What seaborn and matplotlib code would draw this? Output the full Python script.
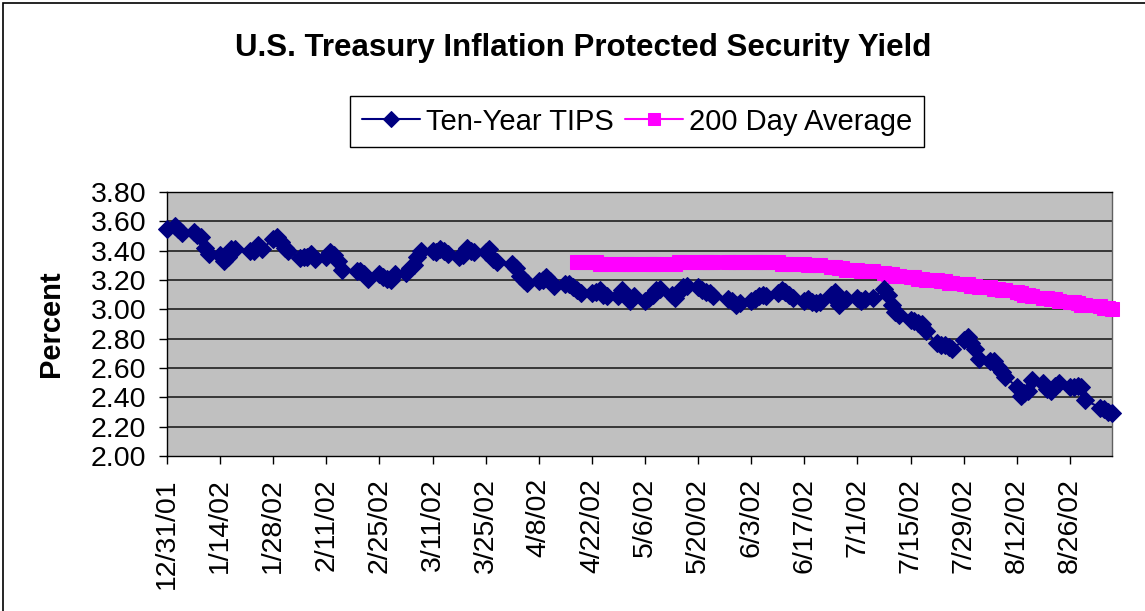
import pandas as pd
import matplotlib
matplotlib.use("Agg")
import matplotlib.pyplot as plt
import matplotlib.patches as mpatches
import seaborn as sns

# trading days, bond market holidays left out
holidays = ["2002-01-01", "2002-01-21", "2002-02-18", "2002-03-29",
            "2002-05-27", "2002-07-04", "2002-09-02"]
dates = pd.bdate_range("2001-12-31", "2002-09-06", freq="C", holidays=holidays)

# Ten-Year TIPS yield (two-week blocks)
tips = [
    3.55, 3.57, 3.55, 3.52, 3.53, 3.51, 3.49, 3.42, 3.38,
    3.37, 3.33, 3.36, 3.41, 3.41, 3.40, 3.40, 3.44, 3.41,
    3.48, 3.49, 3.46, 3.42, 3.40, 3.35, 3.36, 3.36, 3.38, 3.34,
    3.36, 3.39, 3.37, 3.33, 3.27, 3.26, 3.26, 3.24, 3.21,
    3.24, 3.22, 3.21, 3.20, 3.24, 3.25, 3.28, 3.30, 3.36, 3.40,
    3.40, 3.39, 3.41, 3.40, 3.38, 3.36, 3.37, 3.42, 3.40, 3.39,
    3.39, 3.41, 3.34, 3.32, 3.31, 3.28, 3.23, 3.20, 3.18,
    3.19, 3.20, 3.22, 3.19, 3.16, 3.17, 3.17, 3.15, 3.13, 3.11,
    3.11, 3.12, 3.13, 3.10, 3.09, 3.09, 3.13, 3.10, 3.06, 3.09,
    3.06, 3.08, 3.10, 3.13, 3.14, 3.10, 3.08, 3.12, 3.15, 3.16,
    3.15, 3.13, 3.12, 3.11, 3.09, 3.07, 3.06, 3.03, 3.04,
    3.06, 3.07, 3.09, 3.10, 3.09, 3.11, 3.13, 3.12, 3.10, 3.08,
    3.06, 3.07, 3.05, 3.04, 3.05, 3.10, 3.12, 3.03, 3.06, 3.07,
    3.08, 3.06, 3.07, 3.08, 3.14, 3.10, 3.03, 2.98, 2.96,
    2.93, 2.92, 2.91, 2.90, 2.85, 2.77, 2.76, 2.76, 2.74, 2.73,
    2.79, 2.81, 2.77, 2.73, 2.66, 2.65, 2.65, 2.61, 2.57, 2.54,
    2.47, 2.41, 2.43, 2.44, 2.52, 2.50, 2.46, 2.44, 2.48, 2.50,
    2.47, 2.47, 2.48, 2.47, 2.38, 2.33, 2.32, 2.30, 2.29,
]

# 200 day average, starts 4/18/02
avg_start = "2002-04-18"
avg200 = [
    3.32, 3.32, 3.32, 3.32, 3.31, 3.31, 3.31, 3.31, 3.31,
    3.31, 3.31, 3.31, 3.31, 3.31, 3.31, 3.31, 3.31, 3.31, 3.31, 3.32, 3.32,
    3.32, 3.32, 3.32, 3.32, 3.32, 3.32, 3.32, 3.32, 3.32, 3.32,
    3.32, 3.32, 3.32, 3.32, 3.32, 3.32, 3.31, 3.31, 3.31, 3.31,
    3.31, 3.30, 3.30, 3.30, 3.30, 3.29, 3.29, 3.28, 3.28, 3.27,
    3.27, 3.26, 3.26, 3.26, 3.25, 3.24, 3.24, 3.23, 3.23,
    3.22, 3.22, 3.21, 3.21, 3.20, 3.20, 3.19, 3.19, 3.18, 3.18,
    3.17, 3.17, 3.16, 3.16, 3.15,
    3.15, 3.14, 3.14, 3.13, 3.13, 3.12, 3.11, 3.10, 3.10, 3.09,
    3.08, 3.08, 3.07, 3.07, 3.06, 3.05, 3.05, 3.04, 3.03, 3.03,
    3.02, 3.01, 3.01, 3.00,
]

tick_dates = pd.date_range("2001-12-31", periods=18, freq="14D")
tick_labels = [f"{d.month}/{d.day}/{d.strftime('%y')}" for d in tick_dates]
y_ticks = [2.0, 2.2, 2.4, 2.6, 2.8, 3.0, 3.2, 3.4, 3.6, 3.8]

df = pd.DataFrame({"date": dates, "tips": tips})
df_avg = pd.DataFrame({"date": dates[dates >= avg_start], "avg": avg200})

sns.set_style("white")
plt.rcParams["font.family"] = ["Liberation Sans", "DejaVu Sans"]
plt.rcParams["text.color"] = "black"
plt.rcParams["axes.labelcolor"] = "black"
plt.rcParams["xtick.color"] = "black"
plt.rcParams["ytick.color"] = "black"

fig = plt.figure(figsize=(11.45, 6.11), dpi=100)
ax = fig.add_axes([167 / 1145, 1 - 456 / 611, 945 / 1145, 264 / 611])
ax.set_facecolor("#C0C0C0")

sns.lineplot(data=df, x="date", y="tips", ax=ax, color="#000080",
             marker="D", markersize=9.5, markeredgecolor="#000080",
             linewidth=1.5, label="Ten-Year TIPS", clip_on=False, zorder=4)
sns.lineplot(data=df_avg, x="date", y="avg", ax=ax, color="#FF00FF",
             marker="s", markersize=9.5, markeredgecolor="#FF00FF",
             linewidth=1.5, label="200 Day Average", clip_on=False, zorder=3)

ax.set_ylim(2.0, 3.8)
ax.set_yticks(y_ticks)
ax.set_yticklabels([f"{v:.2f}" for v in y_ticks], fontsize=20.5)
ax.set_xlim(pd.Timestamp("2001-12-31"), pd.Timestamp("2002-09-06 02:00"))
ax.set_xticks(tick_dates)
ax.set_xticklabels(tick_labels, rotation=90, fontsize=20.5)
ax.tick_params(axis="both", direction="out", length=6, width=1, color="black",
               left=True, bottom=True)
ax.tick_params(axis="y", pad=9)
ax.tick_params(axis="x", pad=10)

for v in y_ticks[1:-1]:
    ax.axhline(v, color="#202020", linewidth=1.2, zorder=1)
for s in ax.spines.values():
    s.set_color("black")
    s.set_linewidth(1)
ax.spines["right"].set_color("#606060")

ax.set_xlabel("")
ax.set_ylabel("Percent", fontsize=21, fontweight="bold")
ax.yaxis.set_label_coords(-0.108, 0.5)

ax.get_legend().remove()
handles, labels = ax.get_legend_handles_labels()
leg = fig.legend(handles, labels, loc="center", bbox_to_anchor=(637 / 1145, 1 - 121.5 / 611),
                 ncol=2, fontsize=21, frameon=True, fancybox=False, shadow=False,
                 edgecolor="black", framealpha=1, handlelength=2.0, handletextpad=0.2,
                 columnspacing=0.4, borderpad=0.4, borderaxespad=0)
leg.get_frame().set_linewidth(1)
for h in leg.legend_handles:
    h.set_markersize(8)

fig.text(583 / 1145, 1 - 48 / 611, "U.S. Treasury Inflation Protected Security Yield",
         ha="center", va="center", fontsize=22.5, fontweight="bold")

fig.patches.append(mpatches.Rectangle((3 / 1145, -0.05), 1.2, 1.05 - 3 / 611,
                                      transform=fig.transFigure, fill=False,
                                      edgecolor="black", linewidth=1.2))

fig.savefig("out.png", dpi=100)
